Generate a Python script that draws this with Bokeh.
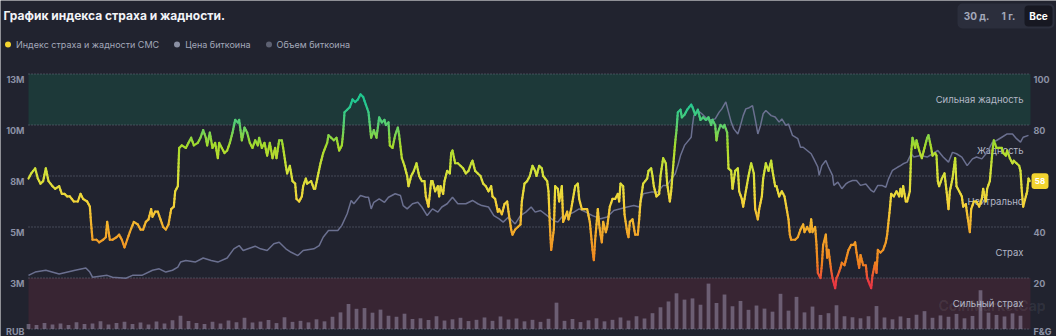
import math
from bokeh.plotting import figure
from bokeh.models import Range1d, Label, BoxAnnotation, Legend, LegendItem
from bokeh.core.properties import value
from bokeh.embed import file_html
from bokeh.resources import INLINE

# ---------------- data ----------------
START_DATE = "2023-07-01"   # day 0 of the series

fg_day = [
    0, 2, 5, 7, 9, 11, 13, 15, 18, 20, 23, 25, 27, 29, 31, 34, 37, 39, 41, 44,
    46, 47, 48, 51, 53, 56, 58, 59, 61, 63, 66, 68, 70, 72, 74, 76, 79, 82, 84, 86,
    88, 90, 92, 93, 95, 97, 99, 101, 103, 105, 107, 109, 110, 112, 113, 115, 118, 120, 122, 124,
    127, 129, 131, 133, 134, 136, 138, 140, 142, 143, 145, 147, 149, 151, 153, 155, 157, 158, 160, 162,
    164, 166, 168, 170, 172, 173, 175, 177, 179, 181, 183, 185, 186, 188, 190, 191, 193, 194, 196, 198,
    200, 201, 203, 205, 206, 208, 209, 212, 214, 215, 217, 219, 221, 224, 225, 227, 229, 231, 233, 235,
    236, 237, 239, 241, 243,
    245, 247, 249, 251, 253, 255, 256, 257, 259, 261, 263, 265, 267, 268, 270, 271, 273, 275, 277, 278,
    280, 282, 284, 285, 287, 289, 291, 293, 295, 297, 298, 300, 302, 303, 305, 307, 308, 309, 311, 312,
    314, 316, 317, 318, 320, 322, 324, 326, 328, 330, 332, 333, 335, 337, 339, 341, 343, 345, 347, 348,
    350, 352, 353, 355, 357, 359, 360, 362, 363, 365, 367, 369, 370, 372,
    374, 376, 378, 380, 381, 383, 385, 386, 389, 390, 391, 392, 394, 395, 397, 398, 400, 401, 404, 405,
    407, 408, 410, 412, 413, 415, 417, 419, 421, 423, 424, 425, 427, 428, 429, 430, 431, 433, 434, 436,
    438, 440, 442, 443, 444, 446, 447, 449, 450, 451, 453, 455, 457, 458, 459, 461, 464, 465, 467, 468,
    469, 471, 473, 474, 476, 478, 479, 481, 482, 484, 485, 486, 487, 489, 490, 492, 494,
    497, 498, 500, 502, 504, 506, 508, 510, 512, 513, 515, 516, 517, 519, 521, 522, 524, 525, 527, 528,
    530, 532, 533, 535, 536, 538, 540, 542, 544, 545, 547, 548, 550, 551, 553, 555, 557, 558, 560, 561,
    563, 565, 567, 569, 570, 571, 572, 575, 577, 579, 581, 582, 584, 586, 587, 588, 590, 591, 592, 594,
    595, 596, 598, 599, 600, 602, 603, 605, 606, 607, 609, 610, 612, 614, 615, 617,
    619, 620, 621, 623, 624, 626, 628, 629, 632, 633, 635, 636, 637, 639, 641, 643, 644, 646, 647, 649,
    651, 653, 654, 655, 656, 658, 659, 661, 662, 663, 665, 666, 668, 670, 672, 674, 675, 677, 678, 680,
    681, 682, 683, 685, 687, 689, 690, 691, 693, 695, 696, 698, 700, 701, 703, 704, 706, 707, 709, 711,
    713, 715, 716, 718, 719, 721, 723, 724, 726, 728, 730, 731, 733, 734, 736, 738, 739, 741, 743, 744,
    745, 746, 748, 749, 750, 751,
]
fg_value = [
    59, 61, 63, 59, 57, 58, 63, 58, 56, 55, 56, 53, 53, 52, 52, 50, 50, 53, 51, 50,
    48, 41, 35, 35, 34, 35, 36, 42, 35, 35, 36, 37, 35, 32, 35, 38, 42, 41, 39, 39,
    42, 43, 47, 44, 46, 46, 43, 40, 39, 41, 47, 48, 54, 56, 71, 72, 71, 73, 75, 72,
    73, 75, 78, 75, 72, 77, 71, 73, 67, 73, 71, 69, 70, 73, 77, 82, 81, 82, 74, 79,
    77, 73, 71, 74, 72, 75, 71, 73, 68, 73, 67, 71, 67, 74, 74, 71, 64, 61, 64, 58,
    57, 51, 50, 52, 56, 59, 57, 58, 55, 55, 60, 65, 69, 73, 76, 75, 74, 75, 70, 72,
    77, 85, 86, 87, 90,
    89, 90, 92, 91, 88, 85, 80, 75, 78, 75, 83, 81, 82, 80, 81, 72, 71, 76, 79, 76,
    67, 64, 60, 56, 60, 62, 65, 60, 58, 58, 52, 48, 58, 58, 54, 56, 52, 56, 53, 58,
    62, 61, 69, 70, 65, 65, 64, 63, 61, 62, 65, 66, 62, 61, 60, 57, 56, 54, 56, 52,
    51, 46, 47, 45, 49, 50, 46, 39, 37, 39, 40, 41, 50, 57,
    58, 60, 64, 62, 60, 64, 63, 60, 58, 54, 41, 31, 39, 56, 55, 50, 56, 42, 46, 43,
    47, 50, 56, 57, 51, 47, 47, 47, 42, 31, 27, 35, 47, 41, 37, 34, 42, 38, 40, 48,
    51, 51, 53, 50, 57, 56, 45, 38, 36, 42, 43, 37, 37, 43, 50, 57, 59, 62, 63, 60,
    56, 52, 53, 60, 67, 65, 57, 50, 54, 67, 73, 78, 85, 86, 83, 84, 86,
    88, 87, 84, 86, 82, 83, 82, 83, 80, 82, 80, 74, 77, 80, 79, 80, 77, 63, 62, 55,
    62, 63, 54, 51, 48, 54, 60, 65, 61, 47, 43, 47, 52, 59, 65, 62, 66, 62, 56, 56,
    52, 54, 52, 46, 43, 37, 35, 35, 36, 39, 41, 38, 40, 38, 43, 38, 40, 33, 22, 20,
    25, 33, 37, 28, 31, 23, 20, 16, 20, 21, 24, 26, 25, 29, 31, 33,
    33, 34, 30, 24, 29, 25, 25, 20, 16, 21, 26, 22, 31, 30, 31, 34, 37, 47, 53, 52,
    54, 52, 55, 52, 56, 50, 50, 54, 69, 75, 71, 74, 70, 67, 71, 75, 76, 71, 68, 69,
    68, 58, 56, 59, 61, 52, 47, 54, 59, 67, 56, 54, 52, 48, 49, 45, 38, 47, 50, 50,
    48, 51, 55, 50, 55, 58, 70, 74, 71, 71, 71, 69, 68, 70, 67, 65, 66, 65, 64, 62,
    54, 48, 52, 54, 59, 58,
]

price_day = [
    0, 5, 13, 23, 35, 43, 46, 48, 59, 63, 73, 78, 85, 93, 98, 103, 108, 112, 114, 118,
    125, 131, 137, 142, 149, 154, 158, 161, 170, 174, 179, 184, 188, 193, 197, 202, 206, 214, 218, 221,
    225, 232, 235, 239, 242, 244, 249, 253, 255, 257, 259, 263, 267, 270, 275, 279, 281, 284, 288, 292,
    295, 299, 303, 307, 310, 314, 318, 322, 328, 333, 337, 340, 345, 349, 353, 356, 360, 365, 369, 373,
    377, 380, 384, 389, 394, 397, 400, 404, 409, 413, 418, 423, 429, 434, 439, 444, 449, 454, 458, 461,
    467, 472, 476, 479, 483, 485, 487, 489, 492, 494, 497, 498, 499, 502, 505, 510, 515, 518, 520, 523,
    525, 527, 529, 532, 534, 536, 538, 540, 543, 545, 547, 549, 551, 553, 557, 560, 563, 565, 568, 570,
    573, 577, 579, 581, 584, 587, 589, 592, 593, 595, 598, 600, 603, 604, 607, 610, 613, 615, 618, 621,
    624, 628, 632, 634, 637, 640, 643, 645, 648, 652, 654, 656, 659, 662, 664, 669, 674, 678, 682, 686,
    690, 693, 696, 700, 704, 708, 711, 715, 719, 723, 726, 730, 734, 738, 741, 744, 746, 750,
]
price_rub_m = [
    2.63, 2.79, 2.88, 2.70, 2.88, 2.99, 2.79, 2.54, 2.63, 2.54, 2.49, 2.63, 2.63, 2.88, 2.95, 2.79, 2.88, 3.03, 3.28, 3.36,
    3.28, 3.48, 3.36, 3.28, 3.48, 3.93, 4.09, 3.85, 4.06, 3.93, 3.85, 4.18, 4.25, 3.93, 3.76, 3.60, 3.85, 3.93, 4.09, 4.50,
    4.83, 4.83, 5.08, 5.65, 6.30, 6.14, 6.54, 6.46, 6.46, 5.89, 6.21, 6.38, 6.21, 6.46, 6.63, 6.54, 6.05, 5.89, 6.14, 6.21,
    5.98, 5.56, 5.89, 5.73, 5.98, 6.14, 6.46, 6.14, 6.14, 6.30, 6.14, 6.05, 5.98, 5.56, 5.40, 5.24, 5.49, 5.15, 5.56, 5.73,
    5.98, 5.73, 5.81, 5.56, 5.31, 5.24, 5.49, 5.56, 5.73, 5.89, 5.73, 5.56, 5.40, 5.49, 5.81, 5.89, 5.98, 6.05, 5.98, 6.63,
    6.71, 6.71, 7.04, 7.04, 7.44, 7.60, 8.01, 8.50, 9.00, 9.16, 9.40, 9.98, 10.46, 10.71, 10.55, 10.23, 10.30, 10.63, 10.79, 11.13,
    10.63, 10.14, 9.81, 9.56, 9.98, 10.46, 10.79, 10.83, 10.95, 10.30, 9.56, 9.98, 10.55, 10.71, 10.46, 10.39, 10.14, 10.30, 9.98, 10.05,
    9.49, 9.33, 8.91, 8.91, 8.75, 8.59, 8.34, 7.94, 7.53, 8.01, 8.26, 7.94, 7.53, 7.04, 7.20, 6.88, 7.11, 7.20, 7.28, 7.28,
    7.04, 7.11, 6.79, 6.71, 7.04, 7.04, 6.95, 7.36, 7.78, 7.94, 8.01, 8.10, 8.18, 8.59, 8.43, 8.50, 8.43, 8.59, 8.75, 8.43,
    8.18, 8.66, 8.59, 8.43, 8.01, 8.34, 8.43, 8.34, 8.66, 9.16, 9.24, 9.40, 9.56, 9.56, 9.33, 9.16, 9.40, 9.49,
]

vol_day = list(range(0, 750, 6))
volume_busd = [
    5.0, 4.0, 6.0, 4.5, 5.5, 3.8, 6.5, 4.8, 5.3, 7.5, 4.3, 5.8, 7.0, 5.0, 6.3, 4.5, 7.3, 5.5, 8.5, 13.0, 7.8,
    6.0, 5.0, 7.0, 5.5, 8.3, 6.5, 11.0, 6.3, 7.3, 8.8, 5.8, 11.5, 7.0, 8.0, 6.5, 9.5, 7.5, 12.0, 16.3, 24.5, 19.8,
    20.5, 16.0, 19.0, 13.0, 12.0, 15.0, 9.8, 10.5, 8.8, 12.5, 8.3, 9.5, 11.0, 7.8, 9.0, 11.3, 8.0, 12.3, 9.3, 10.3,
    7.5, 9.0, 7.0, 10.0, 25.8, 8.0, 9.8, 6.8, 8.5, 10.5, 7.5, 9.0, 11.3, 8.3, 12.5, 10.3, 15.5, 21.3, 27.0, 35.0, 28.8,
    30.0, 23.8, 44.5, 25.5, 33.8, 22.3, 27.5, 18.8, 23.0, 20.0, 17.0, 34.5, 18.0, 31.5, 16.3, 22.0, 13.8, 15.5, 23.3, 12.5, 11.5,
    10.5, 12.5, 22.5, 11.3, 9.5, 12.3, 10.8, 14.0, 17.5, 11.0, 13.3, 12.0, 14.8, 10.5, 12.8, 38.0, 16.0, 13.8, 12.3, 15.3, 13.0,
]

fg_ticks = [0, 20, 40, 60, 80, 100]
fg_tick_labels = ["F&G", "20", "40", "60", "80", "100"]
price_ticks = [0, 2.5, 5, 7.5, 10, 12.5]
price_tick_labels = ["RUB", "3M", "5M", "8M", "10M", "13M"]
zone_mid = [90, 70, 50, 30, 10]
zone_names = ["Сильная жадность", "Жадность", "Нейтрально", "Страх", "Сильный страх"]

TITLE = "График индекса страха и жадности."
LEGEND_NAMES = ["Индекс страха и жадности CMC", "Цена биткоина", "Объем биткоина"]
PERIOD_BUTTONS = ["30 д.", "1 г.", "Все"]

# ---------------- layout / style ----------------
W, H = 1056, 336
PX_L, PX_R = 28, 1030          # pixel columns of first / last day
PY_TOP, PY_BOT = 73.5, 328.5   # pixel rows of F&G 100 / 0
DAY_SPAN = 751.5
PRICE_PER_FG = 12.5 / 100      # left axis: 0..12.5M RUB spans 0..100
VOL_PER_FG = 2.5

xpp = DAY_SPAN / (PX_R - PX_L)
ypp = 100.0 / (PY_BOT - PY_TOP)
X0 = -PX_L * xpp
X1 = X0 + W * xpp
Y0 = -(H - PY_BOT) * ypp
Y1 = PY_BOT * ypp

BG = "#21232f"
FONT = "Inter"
AXIS_TXT = "#8c91a5"

p = figure(width=W, height=H, output_backend="svg", toolbar_location=None,
           x_range=Range1d(X0, X1), y_range=Range1d(Y0, Y1),
           x_axis_location=None, y_axis_location=None,
           min_border=0, background_fill_color=BG, border_fill_color=BG,
           outline_line_color=None)
p.grid.visible = False
p.extra_y_ranges = {
    "price": Range1d(Y0 * PRICE_PER_FG, Y1 * PRICE_PER_FG),
    "vol": Range1d(Y0 * VOL_PER_FG, Y1 * VOL_PER_FG),
}

x_first, x_last = 0, DAY_SPAN
# zone bands
p.quad(left=[x_first], right=[x_last], bottom=[80], top=[100], fill_color="#1d3939", line_color=None)
p.quad(left=[x_first], right=[x_last], bottom=[0], top=[20], fill_color="#382533", line_color=None)
# dotted grid
p.segment(x0=[x_first] * len(fg_ticks), x1=[x_last] * len(fg_ticks), y0=fg_ticks, y1=fg_ticks,
          line_color="#7d8299", line_dash="1 2", line_width=1, line_alpha=0.8)

# volume bars
p.vbar(x=vol_day, top=volume_busd, bottom=0, width=2.8, y_range_name="vol",
       fill_color="#a098b3", fill_alpha=0.5, line_color=None)

# zone labels
p.text(x=[x_last] * len(zone_mid), y=zone_mid, text=zone_names, x_offset=-7,
       text_align="right", text_baseline="middle", text_color="#b3b7c6",
       text_font=value(FONT), text_font_size="9.5px")

# price line
p.line(price_day, price_rub_m, y_range_name="price", line_color="#6b7090", line_width=1.5)

# F&G line with value-dependent colour
stops = [(0, (234, 57, 67)), (18, (234, 57, 67)), (26, (240, 132, 31)), (38, (242, 169, 42)),
         (50, (243, 213, 58)), (62, (210, 226, 58)), (72, (166, 218, 43)), (80, (92, 207, 110)),
         (88, (36, 199, 146)), (100, (22, 199, 132))]


def fg_color(v):
    for (a, ca), (b, cb) in zip(stops[:-1], stops[1:]):
        if v <= b:
            t = 0 if b == a else (v - a) / (b - a)
            c = [round(ca[i] + (cb[i] - ca[i]) * t) for i in range(3)]
            return "#%02x%02x%02x" % tuple(c)
    return "#%02x%02x%02x" % stops[-1][1]


sx0, sy0, sx1, sy1, scol = [], [], [], [], []
for i in range(len(fg_day) - 1):
    xa, ya, xb, yb = fg_day[i], fg_value[i], fg_day[i + 1], fg_value[i + 1]
    n = max(1, int(math.ceil(abs(yb - ya) / 1.5)))
    for k in range(n):
        t0, t1 = k / n, (k + 1) / n
        ua, ub = ya + (yb - ya) * t0, ya + (yb - ya) * t1
        sx0.append(xa + (xb - xa) * t0)
        sx1.append(xa + (xb - xa) * t1)
        sy0.append(ua)
        sy1.append(ub)
        scol.append(fg_color((ua + ub) / 2))
p.segment(x0=sx0, y0=sy0, x1=sx1, y1=sy1, line_color=scol, line_width=2.2, line_cap="round")

# axis labels
for t, lab in zip(price_ticks, price_tick_labels):
    p.add_layout(Label(x=24, x_units="screen", y=t, y_range_name="price", text=lab,
                       text_align="right", text_baseline="middle", y_offset=-5 if t > 0 else -2,
                       text_font=FONT, text_font_size="9px", text_font_style="bold",
                       text_color=AXIS_TXT))
for t, lab in zip(fg_ticks, fg_tick_labels):
    p.add_layout(Label(x=1033, x_units="screen", y=t, text=lab,
                       text_align="left", text_baseline="middle", y_offset=-5 if t > 0 else -2,
                       text_font=FONT, text_font_size="9px", text_font_style="bold",
                       text_color=AXIS_TXT))

# last value badge
last = fg_value[-1]
p.add_layout(BoxAnnotation(left=1031, right=1048, left_units="screen", right_units="screen",
                           bottom=last - 3.1, top=last + 3.1, fill_color="#f3d42f",
                           fill_alpha=1, line_color=None, border_radius=3))
p.add_layout(Label(x=1039.5, x_units="screen", y=last, text=str(last), text_align="center",
                   text_baseline="middle", text_font=FONT, text_font_size="8px",
                   text_font_style="bold", text_color="#ffffff"))

# watermark
p.add_layout(Label(x=938, y=336 - 305, x_units="screen", y_units="screen", text="CoinMarketCap",
                   text_font=FONT, text_font_size="14px", text_font_style="bold",
                   text_color="#ffffff", text_alpha=0.08, text_baseline="middle"))

# title
p.add_layout(Label(x=3, y=336 - 15, x_units="screen", y_units="screen", text=TITLE,
                   text_font=FONT, text_font_size="12px", text_font_style="bold",
                   text_color="#f2f3f7", text_baseline="middle"))

# period buttons
p.add_layout(BoxAnnotation(left=957, right=1054, top=336 - 3, bottom=336 - 28,
                           left_units="screen", right_units="screen", top_units="screen",
                           bottom_units="screen", fill_color="#2b2e3c", fill_alpha=1,
                           line_color=None, border_radius=5))
p.add_layout(BoxAnnotation(left=1024, right=1052, top=336 - 5, bottom=336 - 26,
                           left_units="screen", right_units="screen", top_units="screen",
                           bottom_units="screen", fill_color="#171822", fill_alpha=1,
                           line_color=None, border_radius=4))
for cx, lab, sel in zip([976, 1008, 1038], PERIOD_BUTTONS, [False, False, True]):
    p.add_layout(Label(x=cx, y=336 - 15, x_units="screen", y_units="screen", text=lab,
                       text_align="center", text_baseline="middle", text_font=FONT,
                       text_font_size="10px", text_font_style="bold",
                       text_color="#ffffff" if sel else "#a3a8ba"))

# legend (swatch-only marker renderers, holding no visible point)
leg_colors = ["#f3d42f", "#8a8fa3", "#5d6172"]
items = []
for name, c in zip(LEGEND_NAMES, leg_colors):
    r = p.scatter(x=[float("nan")], y=[float("nan")], marker="circle", size=7,
                  fill_color=c, line_color=None)
    items.append(LegendItem(label=name, renderers=[r]))
legend = Legend(items=items, location=(0, 284), orientation="horizontal",
                glyph_width=15, glyph_height=16, label_standoff=1, spacing=10,
                padding=0, margin=0, label_height=16,
                label_text_font=FONT, label_text_font_size="9px", label_text_color="#a3a8ba",
                background_fill_alpha=0, border_line_alpha=0)
p.add_layout(legend, "center")

open("out.html", "w").write(file_html(p, INLINE))
